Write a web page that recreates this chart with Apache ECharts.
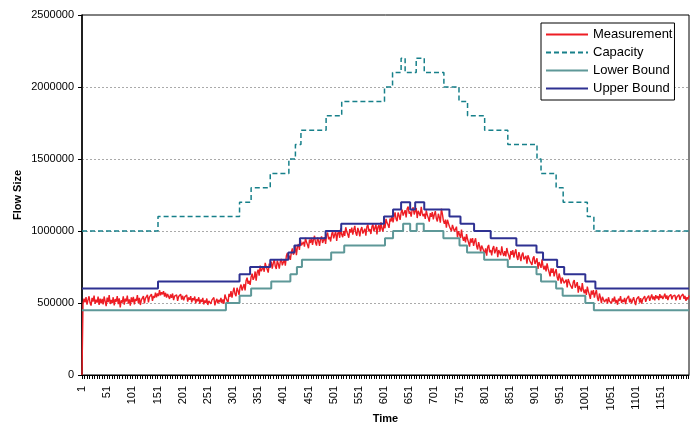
<!DOCTYPE html>
<html><head><meta charset="utf-8">
<script src="https://cdn.jsdelivr.net/npm/echarts@6/dist/echarts.min.js"></script>
<style>html,body{margin:0;padding:0;background:#fff}#c{width:699px;height:423px}</style>
</head><body><div id="c"></div>
<script>
// ---- data (values in thousands) ----
const categoryCount = 1207;          // time steps 1..1207
const labelEvery = 50;               // tick labels 1, 51, 101 ...
const lastLabel = 1151;
const yMax = 2500000, yStep = 500000;

const capacityStart = [1,152,314,337,375,412,425,436,486,517,602,618,635,643,665,681,720,750,767,801,847,905,913,943,957,1005,1018];
const capacityValue = [1000,1100,1200,1300,1400,1500,1600,1700,1800,1900,2000,2100,2200,2100,2200,2100,2000,1900,1800,1700,1600,1500,1400,1300,1200,1100,1000];

const upperStart = [1,152,314,335,375,411,423,434,485,516,601,619,635,653,663,681,731,753,780,813,864,904,917,945,959,1001,1021];
const upperValue = [600,650,700,750,800,850,900,950,1000,1050,1100,1150,1200,1150,1200,1150,1100,1050,1000,950,900,850,800,750,700,650,600];

const lowerStart = [1,287,314,337,377,415,428,438,496,522,603,619,639,653,666,680,719,751,766,800,847,904,913,943,956,1001,1018];
const lowerValue = [450,500,550,600,650,700,750,800,850,900,950,1000,1050,1000,1050,1000,950,900,850,800,750,700,650,600,550,500,450];

// measurement sampled every 2nd time step (thousands)
const measurementEvery = 2;
const measurement = [
0,498,530,505,541,488,522,547,500,482,536,510,551,495,523,503,544,487,530,497,
528,490,545,512,478,538,506,555,493,521,499,540,484,527,509,548,492,533,470,519,
502,546,488,530,511,552,496,525,481,539,507,543,490,528,514,555,498,535,486,522,
509,548,497,532,520,556,505,541,528,562,515,549,535,572,540,566,548,590,553,575,
560,582,545,571,538,563,550,528,559,536,566,520,548,541,557,515,545,532,561,524,
550,518,541,529,556,510,538,522,547,505,533,519,545,498,527,512,540,495,524,508,
535,490,518,502,531,486,515,527,494,520,508,538,483,512,529,497,522,505,536,500,
525,495,559,534,519,499,563,543,583,538,577,607,562,547,606,586,556,608,628,587,
590,632,588,655,676,633,654,626,681,704,661,677,719,655,712,731,690,760,720,707,
750,717,779,751,733,711,773,750,787,739,776,803,755,737,794,772,739,788,806,762,
760,802,759,826,848,806,828,800,855,879,836,853,895,832,889,909,869,939,900,887,
925,891,952,923,904,880,941,917,953,904,941,967,918,899,955,931,897,945,962,917,
920,957,910,972,989,942,959,927,977,996,949,961,998,931,983,998,953,1018,975,957,
1000,966,1026,997,977,953,1013,989,1024,975,1010,1036,986,967,1022,998,963,1011,1027,982,
980,1016,968,1029,1045,997,1013,979,1029,1047,998,1009,1046,977,1028,1042,996,1060,1016,997,
1050,1019,1084,1058,1043,1022,1087,1066,1106,1060,1100,1129,1084,1068,1128,1107,1077,1128,1149,1107,
1110,1145,1095,1155,1170,1120,1135,1100,1148,1165,1115,1125,1160,1090,1140,1152,1105,1168,1122,1102,
1120,1084,1143,1112,1091,1065,1124,1098,1132,1081,1114,1138,1087,1066,1120,1094,1058,1155,1119,1072,
1050,1079,1023,1078,1087,1031,1040,999,1042,1053,997,1001,1030,955,999,1005,952,1009,958,932,
960,921,978,944,920,892,948,919,951,897,928,949,896,872,923,895,856,899,912,862,
845,879,829,888,903,852,867,831,879,895,845,854,889,818,868,879,832,894,848,827,
860,823,882,850,829,802,861,834,867,816,849,873,821,799,853,826,790,835,850,802,
795,827,774,831,843,791,803,765,810,824,771,778,810,737,784,794,744,804,755,732,
760,720,775,740,715,685,740,710,740,685,715,735,680,655,705,675,635,677,688,637,
630,662,609,666,678,626,638,600,645,659,606,613,645,572,619,629,579,639,590,567,
595,557,614,581,557,529,586,558,590,537,568,590,537,514,566,538,499,543,556,507,
505,528,495,540,512,525,498,532,510,545,502,520,488,530,515,548,500,522,508,536,
492,527,514,550,505,530,498,520,540,510,485,528,518,545,502,533,496,525,512,547,
508,530,520,552,515,538,560,525,545,518,555,532,548,520,562,535,550,528,545,565,
530,552,520,545,538,560,525,548,535,555,518,542,530,558,522,546,535,562,528,550,
515,540,525,552
];

// ---- build ----
const categories = Array.from({length: categoryCount}, (_, i) => String(i + 1));
function stepPoints(starts, values) {
  const pts = starts.map((s, k) => [s - 1, values[k] * 1000]);
  pts.push([categoryCount - 1, values[values.length - 1] * 1000]);
  return pts;
}
const measPts = measurement.map((v, i) => [i * measurementEvery, v * 1000]);

const FONT = 'Liberation Sans, Arial, sans-serif';
const chart = echarts.init(document.getElementById('c'), null, {renderer: 'canvas'});
chart.setOption({
  animation: false,
  backgroundColor: '#fff',
  grid: {left: 82, right: 10, top: 15, bottom: 48, show: true, borderColor: '#000', borderWidth: 1,
         containLabel: false, outerBoundsMode: 'none'},
  legend: {
    orient: 'vertical', left: 541, top: 23,
    itemWidth: 42, itemHeight: 12, itemGap: 5,
    padding: [5, 2, 5, 4],
    borderColor: '#000', borderWidth: 1, backgroundColor: '#fff',
    itemStyle: {opacity: 0},
    textStyle: {fontFamily: FONT, fontSize: 13, color: '#000'},
    data: ['Measurement', 'Capacity', 'Lower Bound', 'Upper Bound']
  },
  xAxis: {
    type: 'category', data: categories, boundaryGap: false,
    name: 'Time', nameLocation: 'middle', nameGap: 38, nameMoveOverlap: false,
    nameTextStyle: {fontFamily: FONT, fontSize: 11, fontWeight: 'bold', color: '#000'},
    axisLine: {lineStyle: {color: '#000', width: 1}},
    axisTick: {interval: 4, length: 4, lineStyle: {color: '#000'}},
    axisLabel: {
      rotate: 90, margin: 11, fontFamily: FONT, fontSize: 11, color: '#000',
      interval: (idx) => idx % labelEvery === 0 && idx + 1 <= lastLabel
    },
    splitLine: {show: false}
  },
  yAxis: {
    type: 'value', min: 0, max: yMax, interval: yStep,
    name: 'Flow Size', nameLocation: 'middle', nameGap: 59, nameMoveOverlap: false,
    nameTextStyle: {fontFamily: FONT, fontSize: 11, fontWeight: 'bold', color: '#000'},
    axisLine: {show: true, lineStyle: {color: '#000', width: 1.5}},
    axisTick: {show: true, length: 4, lineStyle: {color: '#000'}},
    axisLabel: {margin: 8, fontFamily: FONT, fontSize: 11, color: '#000', formatter: (v) => String(v)},
    splitLine: {show: true, showMinLine: false, showMaxLine: false, lineStyle: {color: '#aaa', type: [2, 2], width: 1}}
  },
  series: [
    {name: 'Measurement', type: 'line', data: measPts, symbol: 'none', lineStyle: {color: '#ee1d24', width: 1.4}, itemStyle: {color: '#ee1d24'}},
    {name: 'Capacity', type: 'line', step: 'end', data: stepPoints(capacityStart, capacityValue), symbol: 'none', lineStyle: {color: '#17808a', width: 1.5, type: [5, 3]}, itemStyle: {color: '#17808a'}},
    {name: 'Lower Bound', type: 'line', step: 'end', data: stepPoints(lowerStart, lowerValue), symbol: 'none', lineStyle: {color: '#5e9898', width: 2}, itemStyle: {color: '#5e9898'}},
    {name: 'Upper Bound', type: 'line', step: 'end', data: stepPoints(upperStart, upperValue), symbol: 'none', lineStyle: {color: '#2e3192', width: 2}, itemStyle: {color: '#2e3192'}}
  ]
});
</script></body></html>
